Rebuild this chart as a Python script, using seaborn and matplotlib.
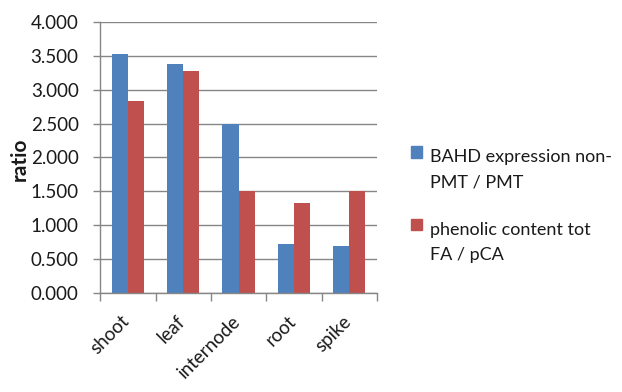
import matplotlib
matplotlib.use("Agg")
import matplotlib.pyplot as plt
import matplotlib.patches as mpatches
import matplotlib.transforms as mtransforms
from matplotlib.legend_handler import HandlerPatch
import seaborn as sns
import pandas as pd

# Tissue categories and the two measured ratios
tissues = ["shoot", "leaf", "internode", "root", "spike"]
bahd_ratio = [3.52, 3.38, 2.50, 0.72, 0.69]
phenolic_ratio = [2.83, 3.28, 1.505, 1.33, 1.51]
series_names = ["BAHD expression non-\nPMT / PMT", "phenolic content tot\nFA / pCA"]
ytick_labels = ["0.000", "0.500", "1.000", "1.500", "2.000", "2.500", "3.000", "3.500", "4.000"]

blue = "#4F81BD"
red = "#C0504D"
grey = "#868686"
ink = "#1a1a1a"

df = pd.DataFrame({
    "tissue": tissues * 2,
    "ratio": bahd_ratio + phenolic_ratio,
    "series": [series_names[0]] * len(tissues) + [series_names[1]] * len(tissues),
})

sns.set_theme(style="white")
plt.rcParams["font.family"] = ["Lato", "DejaVu Sans"]

fig = plt.figure(figsize=(6.22, 3.92), dpi=100)
ax = fig.add_axes([0.161, 0.2526, 0.445, 0.6914])

sns.barplot(data=df, x="tissue", y="ratio", hue="series", order=tissues,
            hue_order=series_names, palette=[blue, red], width=0.58,
            saturation=1, linewidth=0, edgecolor="none", ax=ax, legend=False)

ax.set_ylim(0, 4.0)
ax.set_xlim(-0.5, 4.5)
ax.set_yticks([i * 0.5 for i in range(len(ytick_labels))])
ax.set_yticklabels(ytick_labels)
ax.yaxis.grid(True, color=grey, linewidth=1.0)
ax.set_axisbelow(True)

for side in ["top", "right"]:
    ax.spines[side].set_visible(False)
for side in ["left", "bottom"]:
    ax.spines[side].set_color(grey)
    ax.spines[side].set_linewidth(1.0)

ax.tick_params(axis="y", which="major", left=True, length=5, color=grey, width=1.0,
               pad=10.5, labelsize=13.5, labelcolor=ink)
ax.set_xticks(range(len(tissues)))
ax.set_xticklabels(tissues, rotation=45, ha="right", rotation_mode="anchor")
ax.tick_params(axis="x", which="major", length=0, pad=14, labelsize=13.5,
               labelcolor=ink)
ax.set_xticks([i - 0.5 for i in range(len(tissues) + 1)], minor=True)
ax.tick_params(axis="x", which="minor", bottom=True, length=6, color=grey, width=1.0)

# slide the slanted category names so each word sits under its group
shift = mtransforms.ScaledTranslation(-7 / 100, 0, fig.dpi_scale_trans)
for lbl in ax.get_xticklabels():
    lbl.set_transform(lbl.get_transform() + shift)

ax.set_xlabel("")
ax.set_ylabel("ratio", fontsize=15, fontweight="bold", color=ink)
ax.yaxis.set_label_coords(-0.292, 0.493)
ax.yaxis.label.set_verticalalignment("center")


def top_line_square(legend, orig_handle, xdescent, ydescent, width, height, fontsize):
    # keep the colour square level with the first line of a two-line label
    return mpatches.Rectangle((-xdescent, -ydescent + 13), width, height)


handles = [mpatches.Patch(color=blue), mpatches.Patch(color=red)]
leg = fig.legend(handles, series_names, loc="center left", bbox_to_anchor=(0.6465, 0.474),
                 frameon=False, fontsize=13, handlelength=0.6, handleheight=0.6,
                 handletextpad=0.45, labelspacing=1.7, borderpad=0,
                 handler_map={mpatches.Patch: HandlerPatch(patch_func=top_line_square)})
for t in leg.get_texts():
    t.set_linespacing(1.75)
    t.set_color(ink)

fig.savefig("out.png", dpi=100)
